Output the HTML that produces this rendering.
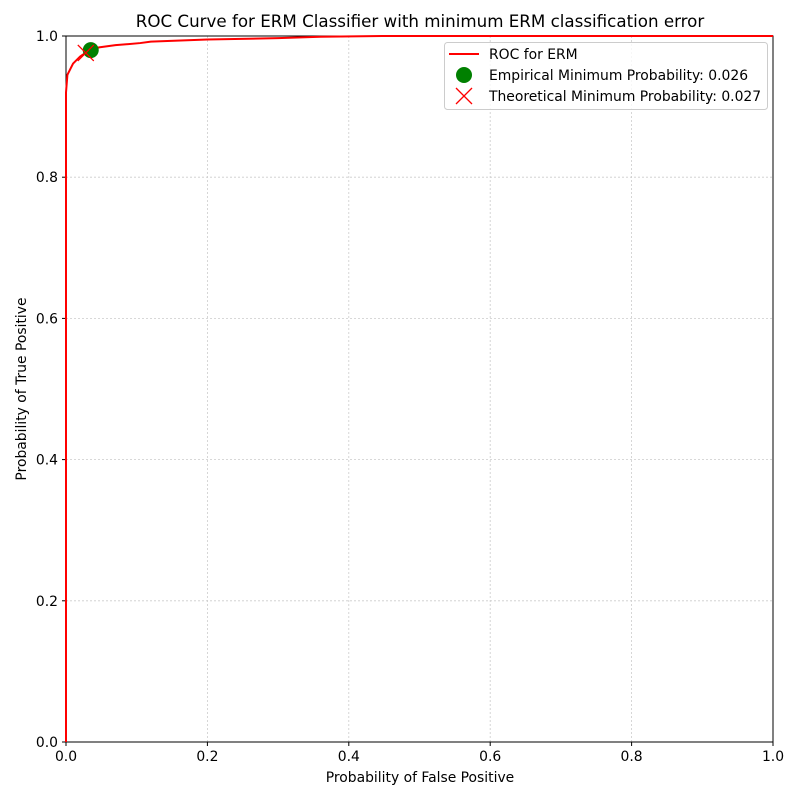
<!DOCTYPE html>
<html><head><meta charset="utf-8"><style>
body{margin:0;background:#fff}
svg text{font-family:"DejaVu Sans","Liberation Sans",sans-serif;fill:#000}
</style></head><body>
<svg id="c" width="800" height="800" xmlns="http://www.w3.org/2000/svg">
<rect width="800" height="800" fill="#fff"/>
<g id="grid"></g><g id="axes"></g><g id="plot"></g>
<text x="420" y="27" font-size="16.7" text-anchor="middle">ROC Curve for ERM Classifier with minimum ERM classification error</text>
<text x="420" y="782" font-size="13.9" text-anchor="middle">Probability of False Positive</text>
<text x="26" y="389" font-size="13.9" text-anchor="middle" transform="rotate(-90 26 389)">Probability of True Positive</text>
<g>
<rect x="444.5" y="42.5" width="323" height="67" rx="3" fill="#fff" fill-opacity="0.8" stroke="#ccc"/>
<line x1="449" y1="54" x2="479" y2="54" stroke="red" stroke-width="2"/>
<text x="489" y="59" font-size="13.9">ROC for ERM</text>
<circle cx="464" cy="75" r="8" fill="green"/>
<text x="489" y="80" font-size="13.9">Empirical Minimum Probability: 0.026</text>
<path d="M456 88 L472 104 M472 88 L456 104" stroke="red" stroke-width="1.3" fill="none"/>
<text x="489" y="101" font-size="13.9">Theoretical Minimum Probability: 0.027</text>
</g>
</svg>
<script>
const fpr=[0,0,0,0.002,0.01,0.02,0.036,0.048,0.07,0.105,0.12,0.2,0.3,0.36,0.45,0.6,1.0];
const tpr=[0,0.87,0.92,0.945,0.961,0.971,0.982,0.984,0.987,0.990,0.992,0.995,0.997,0.999,1.0,1.0,1.0];
const empirical=[0.035,0.98];
const theoretical=[0.028,0.976];
const xTicks=[0,0.2,0.4,0.6,0.8,1.0];
const yTicks=[0,0.2,0.4,0.6,0.8,1.0];
const L=66,R=773,T=36,B=742;
const sx=v=>L+v*(R-L), sy=v=>B-v*(B-T);
const NS="http://www.w3.org/2000/svg";
function mk(p,t,a){const e=document.createElementNS(NS,t);for(const k in a)e.setAttribute(k,a[k]);p.appendChild(e);return e;}
const grid=document.getElementById('grid'),plot=document.getElementById('plot'),axes=document.getElementById('axes');
xTicks.forEach(v=>{
 const g=mk(grid,'line',{x1:sx(v),x2:sx(v),y1:T,y2:B,stroke:'#ccc','stroke-dasharray':'2,2','stroke-width':0.8});
 
 
 const t=mk(axes,'line',{x1:sx(v),x2:sx(v),y1:B,y2:B+4,stroke:'#000'});
 
 
 const l=mk(axes,'text',{x:sx(v),y:B+19,'font-size':13.9,'text-anchor':'middle'});l.textContent=v.toFixed(1);
 
 
});
yTicks.forEach(v=>{
 const g=mk(grid,'line',{x1:L,x2:R,y1:sy(v),y2:sy(v),stroke:'#ccc','stroke-dasharray':'2,2','stroke-width':0.8});
 
 
 const t=mk(axes,'line',{x1:L-4,x2:L,y1:sy(v),y2:sy(v),stroke:'#000'});
 
 
 const l=mk(axes,'text',{x:L-8,y:sy(v)+5,'font-size':13.9,'text-anchor':'end'});l.textContent=v.toFixed(1);
 
 
});
const frame=mk(axes,'rect',{x:L,y:T,width:R-L,height:B-T,fill:'none',stroke:'#000','stroke-width':1});


const line=mk(plot,'polyline',{points:fpr.map((v,i)=>sx(v)+','+sy(tpr[i])).join(' '),fill:'none',stroke:'red','stroke-width':2});


const c=mk(plot,'circle',{cx:sx(empirical[0]),cy:sy(empirical[1]),r:8,fill:'green'});


const x0=sx(theoretical[0]),y0=sy(theoretical[1]);
const m=mk(plot,'path',{d:`M${x0-8} ${y0-8}L${x0+8} ${y0+8}M${x0+8} ${y0-8}L${x0-8} ${y0+8}`,stroke:'red','stroke-width':1.3,fill:'none'});


</script>
</body></html>
